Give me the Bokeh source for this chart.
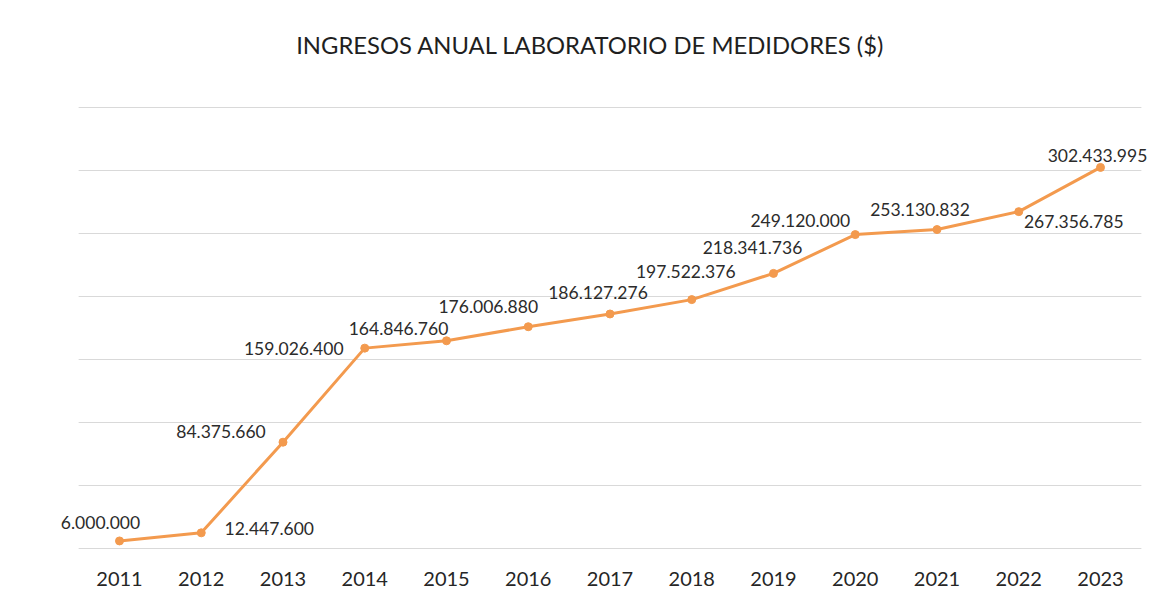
from bokeh.plotting import figure
from bokeh.models import ColumnDataSource, Range1d, FixedTicker, LabelSet, Label
from bokeh.embed import file_html
from bokeh.resources import INLINE
from bokeh.core.properties import value

years = ["2011", "2012", "2013", "2014", "2015", "2016", "2017",
         "2018", "2019", "2020", "2021", "2022", "2023"]
ingresos = [6000000, 12447600, 84375660, 159026400, 164846760, 176006880,
            186127276, 197522376, 218341736, 249120000, 253130832,
            267356785, 302433995]
etiquetas = ["6.000.000", "12.447.600", "84.375.660", "159.026.400",
             "164.846.760", "176.006.880", "186.127.276", "197.522.376",
             "218.341.736", "249.120.000", "253.130.832", "267.356.785",
             "302.433.995"]
grid_ticks = [0, 50e6, 100e6, 150e6, 200e6, 250e6, 300e6, 350e6]
titulo = "INGRESOS ANUAL LABORATORIO DE MEDIDORES ($)"

# label placement (screen px offsets, style only; y up positive)
dx = [-19, 68, -62, -71, -48, -40, -12, -6, -21, -55, -17, 55, -3]
dy = [18, 4, 11, 0, 12, 20, 21, 28, 26, 14, 20, -10, 12]

n = len(years)
idx = list(range(n))
src = ColumnDataSource(dict(x=idx, y=ingresos, lab=etiquetas, dx=dx, dy=dy))

FONT = "Lato"
W, H, BOTTOM = 1160, 590, 40
frame_h = H - BOTTOM
step = 81.75
x_start = -119.0 / step
x_end = x_start + W / step
px_per = (548 - 107) / 350e6
y_start = -(frame_h - 548) / px_per
y_end = 350e6 + 107 / px_per

p = figure(width=W, height=H, x_range=Range1d(x_start, x_end),
           y_range=Range1d(y_start, y_end),
           output_backend="svg", toolbar_location=None,
           min_border_left=0, min_border_right=0, min_border_top=0,
           min_border_bottom=BOTTOM)

p.outline_line_color = None
p.xgrid.grid_line_color = None
p.ygrid.grid_line_color = None
p.yaxis.visible = False
p.xaxis.ticker = FixedTicker(ticks=idx)
p.xaxis.major_label_overrides = {i: y for i, y in zip(idx, years)}
p.xaxis.axis_line_color = None
p.xaxis.major_tick_line_color = None
p.xaxis.minor_tick_line_color = None
p.xaxis.major_label_standoff = 15
p.xaxis.major_label_text_font = FONT
p.xaxis.major_label_text_font_size = "20px"
p.xaxis.major_label_text_color = "#262626"

# horizontal gridlines spanning the category band
p.segment(x0=[-0.5] * len(grid_ticks), x1=[n - 0.5] * len(grid_ticks),
          y0=grid_ticks, y1=grid_ticks, line_color="#d9d9d9", line_width=1.2)

p.line("x", "y", source=src, line_color="#F39A4E", line_width=3)
p.scatter("x", "y", source=src, size=8, fill_color="#F39A4E", line_color="#F39A4E")
labels = LabelSet(x="x", y="y", text="lab", source=src, x_offset="dx", y_offset="dy",
                  text_align="center", text_baseline="middle",
                  text_font=value(FONT), text_font_size=value("17.5px"),
                  text_color="#2b2b2b")
p.add_layout(labels)

p.add_layout(Label(x=x_start, y=y_end, x_offset=590, y_offset=-44, text=titulo,
                   text_align="center", text_baseline="middle",
                   text_font=FONT, text_font_size="23.8px", text_color="#1f1f1f"))

open("out.html", "w").write(file_html(p, INLINE))
